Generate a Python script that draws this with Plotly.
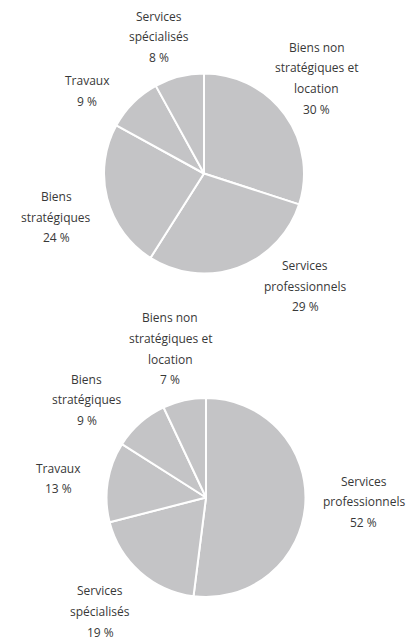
import math
import plotly.graph_objects as go

# ---- data ----
top_labels = ["Biens non<br>stratégiques et<br>location", "Services<br>professionnels",
              "Biens<br>stratégiques", "Travaux", "Services<br>spécialisés"]
top_values = [30, 29, 24, 9, 8]

bot_labels = ["Services<br>professionnels", "Services<br>spécialisés", "Travaux",
              "Biens<br>stratégiques", "Biens non<br>stratégiques et<br>location"]
bot_values = [52, 19, 13, 9, 7]

# ---- layout / style ----
W, H = 419, 641
font = dict(family="Open Sans, sans-serif", size=12, color="#383838")
SLICE = "#c4c4c6"
LINE_H = 20.7

# label placement (style): angle shift (deg) and distance (px) from pie centre
top_shift = [-4.2, -22.1, -2.1, -9.6, -3.8]
top_dist = [147.5, 151.3, 154, 143, 144]
bot_shift = [-2.0, 1.5, -1.7, -9.3, -1.0]
bot_dist = [158, 155.7, 149, 154, 153]

pies = [
    dict(labels=top_labels, values=top_values, cx=204, cy=173.5, r=100, shift=top_shift, dist=top_dist),
    dict(labels=bot_labels, values=bot_values, cx=206, cy=497.5, r=99.5, shift=bot_shift, dist=bot_dist),
]

fig = go.Figure()
annotations = []
for p in pies:
    cx, cy, r = p["cx"], p["cy"], p["r"]
    fig.add_trace(go.Pie(
        labels=[l.replace("<br>", " ") for l in p["labels"]], values=p["values"],
        sort=False, direction="clockwise", rotation=0, textinfo="none",
        marker=dict(colors=[SLICE] * len(p["values"]), line=dict(color="white", width=2)),
        domain=dict(x=[(cx - r) / W, (cx + r) / W], y=[1 - (cy + r) / H, 1 - (cy - r) / H]),
        showlegend=False, hoverinfo="skip",
    ))
    total = sum(p["values"])
    cum = 0
    for lab, v, sh, d in zip(p["labels"], p["values"], p["shift"], p["dist"]):
        mid = 360 * (cum + v / 2) / total + sh
        cum += v
        a = math.radians(mid)
        lx = cx + d * math.sin(a)
        ly = cy - d * math.cos(a)
        lines = lab.split("<br>") + [f"{v} %"]
        n = len(lines)
        for i, t in enumerate(lines):
            yy = ly + (i - (n - 1) / 2) * LINE_H
            annotations.append(dict(
                x=lx / W, y=1 - yy / H, xref="paper", yref="paper", text=t,
                showarrow=False, xanchor="center", yanchor="middle", font=font,
            ))

fig.update_layout(width=W, height=H, margin=dict(l=0, r=0, t=0, b=0),
                  paper_bgcolor="white", plot_bgcolor="white", font=font,
                  annotations=annotations)
fig.write_html("out.html", config={"displayModeBar": False, "staticPlot": True},
               post_script="document.body.style.margin='0';document.body.style.overflow='hidden';")
